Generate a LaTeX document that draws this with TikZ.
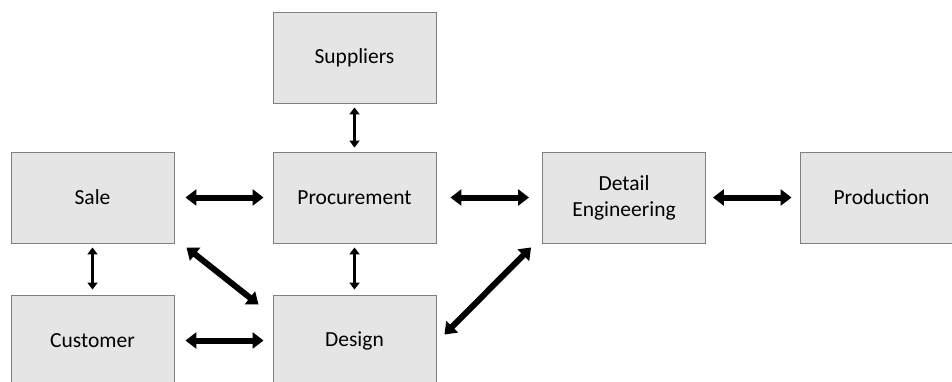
\documentclass[tikz,border=0pt]{standalone}
\usepackage{fontspec}
\setmainfont{Carlito}
\usetikzlibrary{arrows.meta,calc}
\tikzset{
  box/.style={draw=black!50, line width=0.9pt, fill=black!10, minimum width=163pt, minimum height=91pt, inner sep=0pt, align=center, font=\fontsize{21.5}{26}\selectfont},
  bigarrow/.style={line width=6pt, {Triangle[width=16pt,length=11pt]}-{Triangle[width=16pt,length=11pt]}},
  smallarrow/.style={line width=3.5pt, {Triangle[width=10pt,length=7pt]}-{Triangle[width=10pt,length=7pt]}}
}
\begin{document}
\begin{tikzpicture}[x=1pt,y=-1pt]
\useasboundingbox (0,0) rectangle (952,381);
\clip (0,0) rectangle (952,381);
\node[box] (sup) at (354.5,57.5) {Suppliers};
\node[box] (sale) at (92.5,197.5) {Sale};
\node[box] (proc) at (354.5,197.5) {Procurement};
\node[box] (det) at (624,197.5) {Detail\\Engineering};
\node[box] (prod) at (881.5,197.5) {Production};
\node[box] (cust) at (92.5,340.5) {Customer};
\node[box] (des) at (354.5,340.5) {Design};
\draw[bigarrow, shorten <=11pt, shorten >=9pt] (sale.east) -- (proc.west);
\draw[bigarrow, shorten <=14pt, shorten >=13pt] (proc.east) -- (det.west);
\draw[bigarrow, shorten <=7pt, shorten >=8pt] (det.east) -- (prod.west);
\draw[bigarrow, shorten <=11pt, shorten >=9pt] (cust.east |- des.center) -- (des.west);
\draw[smallarrow, shorten <=4pt, shorten >=4pt] (sup.south) -- (proc.north);
\draw[smallarrow, shorten <=4pt, shorten >=5pt] (proc.south) -- (des.north);
\draw[smallarrow, shorten <=4pt, shorten >=5pt] (sale.south) -- (cust.north);
\draw[bigarrow] ($(sale.south east)+(12,4)$) -- ($(des.north west)+(-14,10)$);
\draw[bigarrow] ($(des.east)+(8,-6)$) -- ($(det.south west)+(-11,4)$);
\end{tikzpicture}
\end{document}
